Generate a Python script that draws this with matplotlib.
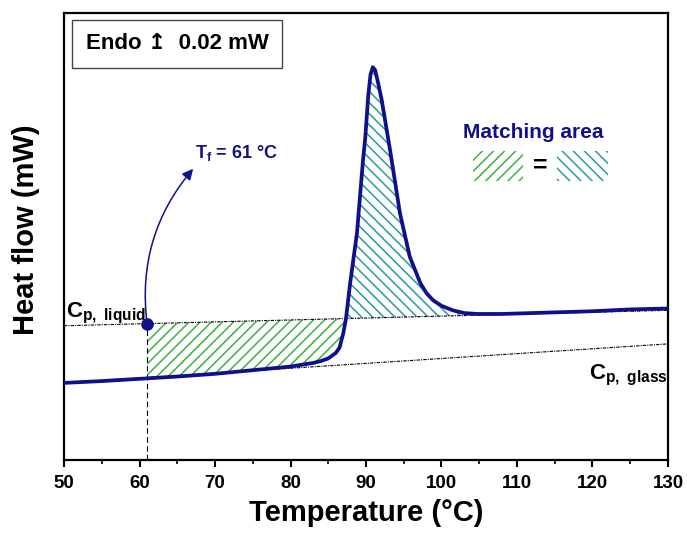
import matplotlib
matplotlib.use("Agg")
import matplotlib.pyplot as plt
import numpy as np

# DSC trace (heating), heat flow in mW
temp = [50, 55, 61, 65, 70, 75, 80, 83, 84, 85, 86, 86.5, 87, 87.35, 87.9,
        88.8, 89.6, 89.9, 90.3, 90.6, 90.9, 91.2, 91.6, 92.1, 93.2, 94.5,
        95.8, 97.2, 98.0, 98.9, 100, 101.5, 103, 104.7, 108, 112, 116, 120,
        125, 130]
heat = [0.085, 0.087, 0.090, 0.092, 0.095, 0.099, 0.103, 0.107, 0.109, 0.112,
        0.118, 0.124, 0.140, 0.156, 0.195, 0.250, 0.330, 0.355, 0.402, 0.425,
        0.433, 0.430, 0.416, 0.396, 0.341, 0.272, 0.224, 0.195, 0.184, 0.176,
        0.170, 0.165, 0.162, 0.161, 0.161, 0.162, 0.163, 0.164, 0.166, 0.167]

# baselines (end points)
liquid_T = [50, 130]
liquid_hf = [0.148, 0.165]
glass_T = [50, 130]
glass_hf = [0.085, 0.128]

T_f = 61
x_ticks = [50, 60, 70, 80, 90, 100, 110, 120, 130]

navy = "#10108a"
green = "#3cb043"
teal = "#2a9a9a"

plt.rcParams["font.family"] = ["Liberation Sans", "DejaVu Sans"]
plt.rcParams["font.weight"] = "bold"
plt.rcParams["axes.labelweight"] = "bold"
plt.rcParams["mathtext.fontset"] = "custom"
plt.rcParams["mathtext.rm"] = "Liberation Sans:bold"
plt.rcParams["mathtext.bf"] = "Liberation Sans:bold"
plt.rcParams["mathtext.it"] = "Liberation Sans:bold"
plt.rcParams["mathtext.default"] = "bf"
plt.rcParams["hatch.linewidth"] = 1.1


def main():
    fig = plt.figure(figsize=(6.87, 5.35), dpi=100)
    ax = fig.add_axes([0.0932, 0.1402, 0.8791, 0.8355])

    T = np.array(temp)
    hf = np.array(heat)
    liq = np.interp(T, liquid_T, liquid_hf)

    # hatched areas
    m_green = (T >= T_f) & (T <= 88)
    ax.fill_between(T[m_green], hf[m_green], liq[m_green], where=hf[m_green] <= liq[m_green],
                    interpolate=True, facecolor="none", edgecolor=green, hatch="///", linewidth=0)
    m_teal = T >= 86
    ax.fill_between(T[m_teal], hf[m_teal], liq[m_teal], where=hf[m_teal] >= liq[m_teal],
                    interpolate=True, facecolor="none", edgecolor=teal, hatch="\\\\\\", linewidth=0)

    # baselines
    ax.plot(liquid_T, liquid_hf, color="black", lw=0.8, ls=(0, (3, 1, 1, 1)))
    ax.plot(glass_T, glass_hf, color="black", lw=0.8, ls=(0, (3, 1, 1, 1)))

    # DSC curve
    ax.plot(T, hf, color=navy, lw=2.7, solid_joinstyle="round", zorder=5)

    # fictive temperature
    y_tf = np.interp(T_f, liquid_T, liquid_hf)
    ax.plot([T_f, T_f], [0, y_tf], color="black", lw=0.8, ls=(0, (5, 3)))
    ax.plot(T_f, y_tf, "o", color=navy, ms=8, zorder=6)
    ax.annotate("", xy=(67.1, 0.321), xytext=(T_f, y_tf),
                arrowprops=dict(arrowstyle="-|>", color=navy, lw=1.1,
                                mutation_scale=16,
                                connectionstyle="arc3,rad=-0.22",
                                shrinkA=0, shrinkB=0))
    ax.text(67.4, 0.339, "T$_f$ = 61 °C", color=navy, fontsize=13,
            va="center", ha="left")

    # labels for the baselines
    ax.text(50.25, 0.157, r"C$_{p,\ liquid}$", fontsize=16, ha="left", va="baseline")
    ax.text(119.6, 0.089, r"C$_{p,\ glass}$", fontsize=16, ha="left", va="baseline")

    # matching area legend
    ax.text(112.1, 0.361, "Matching area", color=navy, fontsize=15,
            ha="center", va="center")
    ax.fill_between([104.2, 110.8], 0.308, 0.341, facecolor="none",
                    edgecolor=green, hatch="///", linewidth=0)
    ax.fill_between([115.3, 122.0], 0.308, 0.341, facecolor="none",
                    edgecolor=teal, hatch="\\\\\\", linewidth=0)
    ax.text(113.05, 0.3245, "=", fontsize=18, ha="center", va="center")

    # scale box
    ax.text(0.036, 0.931, "Endo \u21a5  0.02 mW", transform=ax.transAxes,
            fontsize=16, ha="left", va="center",
            bbox=dict(boxstyle="square,pad=0.6", facecolor="white",
                      edgecolor="#444444", lw=1.0))

    ax.set_xlim(50, 130)
    ax.set_ylim(0, 0.4928)
    ax.set_xticks(x_ticks)
    ax.set_xticks(np.arange(55, 130, 10), minor=True)
    ax.set_yticks([])
    ax.tick_params(axis="x", which="major", direction="out", length=5, width=1.5,
                   labelsize=13.5, pad=6)
    ax.tick_params(axis="x", which="minor", direction="out", length=3, width=1.2)
    for s in ax.spines.values():
        s.set_linewidth(1.6)

    ax.set_xlabel("Temperature (°C)", fontsize=21, labelpad=5)
    ax.set_ylabel("Heat flow (mW)", fontsize=21)
    ax.yaxis.set_label_coords(-0.04, 0.515)

    fig.savefig("out.png", dpi=100)


if __name__ == "__main__":
    main()
